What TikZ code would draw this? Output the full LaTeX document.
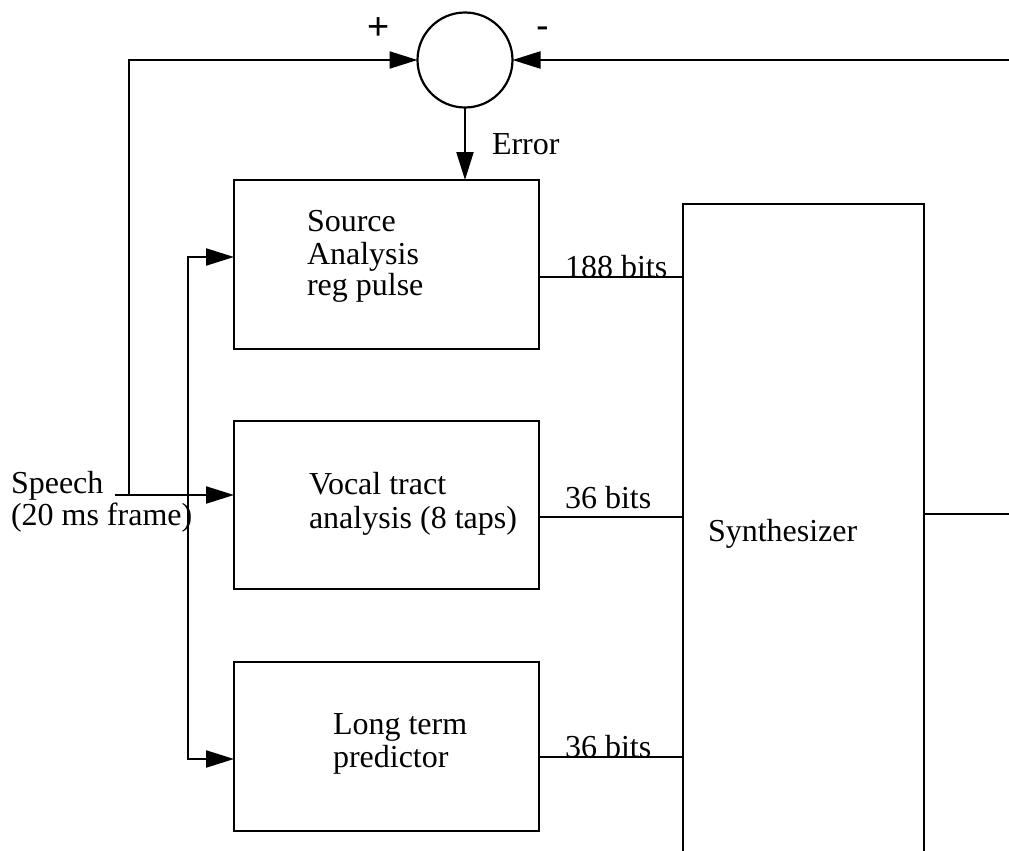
\documentclass[tikz,border=0pt]{standalone}
\usepackage{fontspec}
\setmainfont{Liberation Serif}
\newfontfamily\signfont{Liberation Sans}
\usetikzlibrary{arrows.meta}
\begin{document}
\begin{tikzpicture}[x=0.5pt,y=-0.5pt, line width=1.1pt,
  blk/.style={draw, minimum width=152.5pt, minimum height=84.5pt, inner sep=0pt, outer sep=0pt},
  lbl/.style={font=\fontsize{16}{15.5}\selectfont, inner sep=0pt, outer sep=0pt, align=left, anchor=north west},
  sign/.style={font=\signfont\fontsize{19}{19}\selectfont, inner sep=0pt, outer sep=0pt, anchor=center},
  arr/.style={-{Triangle[length=14pt,width=8.5pt]}},
  ]
\useasboundingbox (0,0) rectangle (1009,851);
% summing junction
\node[draw, circle, minimum size=47.5pt, inner sep=0pt, outer sep=0pt] (sum) at (465,60) {};
\node[sign] (plus) at (379,29) {+};
\node[sign] (minus) at (543,33) {-};
% blocks
\node[blk] (box1) at (386.5,264.5) {};
\node[blk, minimum height=84pt] (box2) at (386.5,505) {};
\node[blk] (box3) at (386.5,746.5) {};
\node[lbl] (t1) at (307,209.3) {\strut Source\\Analysis\\reg pulse};
\node[lbl] (t2) at (309,472.3) {\strut Vocal tract\\analysis (8 taps)};
\node[lbl] (t3) at (333,712.3) {\strut Long term\\predictor};
% synthesizer (open at the bottom)
\node[minimum width=120.5pt, minimum height=323.5pt, inner sep=0pt, outer sep=0pt] (synth) at (803.5,527.5) {};
\draw (synth.south west) -- (synth.north west) -- (synth.north east) -- (synth.south east);
\node[lbl] (tsyn) at (708,519.3) {\strut Synthesizer};
% labels
\node[lbl] (err) at (492,133.3) {\strut Error};
\node[lbl, font=\fontsize{16}{13}\selectfont] (speech) at (11,471.3) {\strut Speech\\(20 ms frame)};
% connectors
\coordinate (sp) at (115,495);
\coordinate (fb) at (129,495);
\coordinate (bus) at (188,495);
\coordinate (rt) at (1009,60);
\coordinate (out) at (1009,514);
\draw[arr] (sum.south) -- (sum.south |- box1.north);
\draw[arr] (sp) -- (box2.west |- sp);
\draw[arr] (fb) |- (sum.west);
\draw[arr] (bus) |- (box1.west |- 0,257);
\draw[arr] (bus) |- (box3.west |- 0,759);
\draw[arr] (rt) -- (sum.east);
\draw (synth.east |- out) -- (out);
\draw (box1.east |- 0,277) -- (synth.west |- 0,277);
\draw (box2.east |- 0,517) -- (synth.west |- 0,517);
\draw (box3.east |- 0,757) -- (synth.west |- 0,757);
\node[lbl] (b1) at (565,255.3) {\strut 188 bits};
\node[lbl] (b2) at (565,486.3) {\strut 36 bits};
\node[lbl] (b3) at (565,735.3) {\strut 36 bits};
\end{tikzpicture}
\end{document}
